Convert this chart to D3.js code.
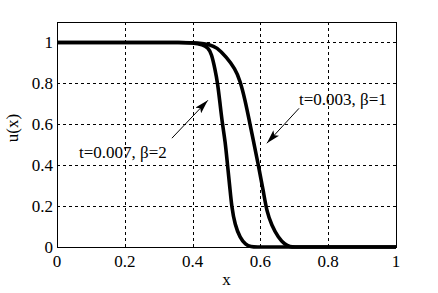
<!DOCTYPE html>
<html lang="en">
<head>
<meta charset="UTF-8">
<title>u(x)</title>
<style>
  body { margin: 0; background: #fff; }
  .grid line { stroke: #000; stroke-width: 1; stroke-dasharray: 3,3; shape-rendering: crispEdges; }
  .curve { fill: none; stroke: #000; stroke-width: 3.6; stroke-linejoin: round; }
</style>
</head>
<body>
<svg></svg>
<script src="https://d3js.org/d3.v7.min.js"></script>
<script>
// tick values
let xTicks = [0, 0.2, 0.4, 0.6, 0.8, 1];
let yTicks = [0, 0.2, 0.4, 0.6, 0.8, 1];

// t=0.007, beta=2
let xA = [0, 0.3, 0.36, 0.40, 0.43, 0.445, 0.456, 0.466, 0.474, 0.481, 0.488, 0.496, 0.503, 0.51, 0.515, 0.525, 0.54, 0.556, 0.572, 0.59, 0.62, 1];
let uA = [1, 1, 1, 0.998, 0.99, 0.975, 0.945, 0.87, 0.80, 0.70, 0.60, 0.52, 0.40, 0.29, 0.20, 0.107, 0.045, 0.012, 0.001, 0, 0, 0];

// t=0.003, beta=1
let xB = [0, 0.3, 0.36, 0.42, 0.45, 0.471, 0.50, 0.525, 0.54, 0.555, 0.567, 0.578, 0.594, 0.609, 0.619, 0.633, 0.653, 0.672, 0.688, 0.70, 0.73, 1];
let uB = [1, 1, 1, 0.998, 0.99, 0.977, 0.928, 0.872, 0.815, 0.717, 0.62, 0.53, 0.40, 0.27, 0.172, 0.107, 0.045, 0.012, 0.001, 0, 0, 0];

let labels = ["t=0.007, \u03b2=2", "t=0.003, \u03b2=1"];

let width = 438, height = 293;
let margin = {left: 57, right: 42, top: 22, bottom: 46};
let font = "'Times New Roman', Tinos, 'Liberation Serif', 'DejaVu Serif', serif";

let svg = d3.select("svg").attr("width", width).attr("height", height)
    .style("font-family", font);

let x = d3.scaleLinear().domain([0, 1]).range([margin.left, width - margin.right]);
let y = d3.scaleLinear().domain([0, 1.1]).range([height - margin.bottom, margin.top]);

// grid
let grid = svg.append("g").attr("class", "grid");
grid.selectAll(".gx").data(xTicks.slice(1, -1)).enter().append("line")
    .attr("x1", d => Math.round(x(d)) + 0.5).attr("x2", d => Math.round(x(d)) + 0.5)
    .attr("y1", y(1.1)).attr("y2", y(0));
grid.selectAll(".gy").data(yTicks.slice(1)).enter().append("line")
    .attr("y1", d => Math.round(y(d)) + 0.5).attr("y2", d => Math.round(y(d)) + 0.5)
    .attr("x1", x(0)).attr("x2", x(1));

// box
svg.append("rect")
    .attr("x", Math.round(x(0)) + 0.5).attr("y", Math.round(y(1.1)) + 0.5)
    .attr("width", Math.round(x(1) - x(0))).attr("height", Math.round(y(0) - y(1.1)))
    .attr("fill", "none").attr("stroke", "#000").attr("stroke-width", 1);

// tick labels
let txt = sel => sel.style("font-family", font).attr("font-size", 17).attr("fill", "#000");

svg.selectAll(".xt").data(xTicks).enter().append("text")
    .call(txt)
    .attr("x", d => x(d)).attr("y", y(0) + 20)
    .attr("text-anchor", "middle")
    .text(d => d3.format("")(d));
svg.selectAll(".yt").data(yTicks).enter().append("text")
    .call(txt)
    .attr("x", x(0) - 4).attr("y", d => y(d) + 6)
    .attr("text-anchor", "end")
    .text(d => d3.format("")(d));

// axis titles
svg.append("text").call(txt).attr("x", (x(0) + x(1)) / 2).attr("y", 285)
    .attr("text-anchor", "middle").text("x");
svg.append("text").call(txt).attr("transform", "translate(18,128) rotate(-90)")
    .attr("text-anchor", "middle").text("u(x)");

// curves
let line = d3.line().x(d => x(d[0])).y(d => y(d[1])).curve(d3.curveBasis);
svg.append("path").attr("class", "curve").attr("d", line(d3.zip(xA, uA)));
svg.append("path").attr("class", "curve").attr("d", line(d3.zip(xB, uB)));

// arrows + labels
svg.append("defs").append("marker")
    .attr("id", "head").attr("viewBox", "0 0 14 8")
    .attr("refX", 14).attr("refY", 4)
    .attr("markerWidth", 14).attr("markerHeight", 8)
    .attr("markerUnits", "userSpaceOnUse").attr("orient", "auto")
    .append("path").attr("d", "M0,0 L14,4 L0,8 L3,4 Z").attr("fill", "#000");

let notes = [
    {text: labels[0], tx: 0.065, ty: 0.435, from: [0.339, 0.532], to: [0.445, 0.717]},
    {text: labels[1], tx: 0.714, ty: 0.693, from: [0.714, 0.678], to: [0.619, 0.507]}
];
notes.forEach(n => {
    svg.append("line")
        .attr("x1", x(n.from[0])).attr("y1", y(n.from[1]))
        .attr("x2", x(n.to[0])).attr("y2", y(n.to[1]))
        .attr("stroke", "#000").attr("stroke-width", 1)
        .attr("marker-end", "url(#head)");
    svg.append("text").call(txt).attr("x", x(n.tx)).attr("y", y(n.ty))
        .text(n.text);
});
</script>
</body>
</html>
